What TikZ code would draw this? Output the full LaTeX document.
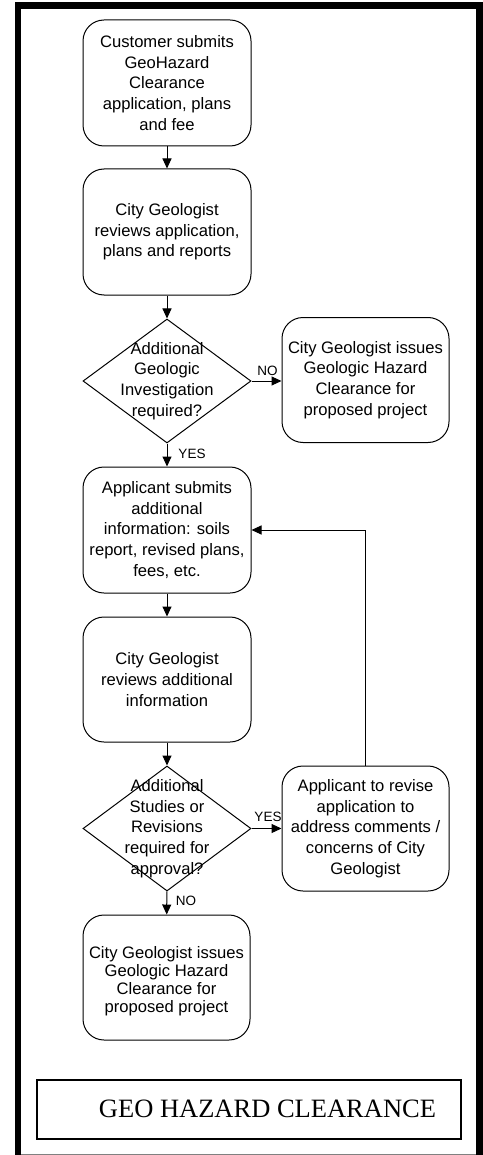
\documentclass[tikz,border=0pt]{standalone}
\usepackage{fontspec}
\setmainfont{Liberation Sans}
\newfontfamily\titlefont{Liberation Serif}
\usetikzlibrary{shapes.geometric,arrows.meta}

\tikzset{
  flowbox/.style={draw, line width=1pt, rounded corners=21pt,
    minimum width=168pt, minimum height=126pt, inner sep=2pt,
    align=center, font=\fontsize{16.6}{20.6}\selectfont},
  decision/.style={draw, line width=1pt, diamond, inner sep=0pt,
    minimum width=168pt, minimum height=124pt},
  decisiontext/.style={align=center, inner sep=0pt,
    font=\fontsize{16.6}{20.7}\selectfont},
  flowarrow/.style={line width=1pt, -{Triangle[length=10pt,width=9pt]}},
  answer/.style={inner sep=0pt, font=\fontsize{13.5}{15}\selectfont},
}

\begin{document}
\begin{tikzpicture}[x=1pt, y=-1pt]
\useasboundingbox (0,0) rectangle (482,1155);

% outer frame
\draw[line width=6.6pt, miter limit=10] (18,1160) -- (18,5.7) -- (479.3,5.7) -- (479.3,1160);
\draw[gray, line width=1pt] (21,1154.3) -- (476,1154.3);

% main column
\node[flowbox] (b1) at (167,83) {Customer submits\\GeoHazard\\Clearance\\application, plans\\and fee};
\node[flowbox] (b2) at (167,232) {City Geologist\\reviews application,\\plans and reports};
\node[decision] (d1) at (167,381) {};
\node[decisiontext] (d1t) at (d1.center) {Additional\\Geologic\\Investigation\\required?};
\node[flowbox, minimum width=167pt, minimum height=125pt] (r1) at (365.5,380) {City Geologist issues\\Geologic Hazard\\Clearance for\\proposed project};
\node[flowbox] (b3) at (167,530) {Applicant submits\\additional\\information: soils\\report, revised plans,\\fees, etc.};
\node[flowbox, minimum height=125pt] (b4) at (167,679.5) {City Geologist\\reviews additional\\information};
\node[decision, minimum height=125pt] (d2) at (167,828.5) {};
\node[decisiontext] (d2t) at (d2.center) {Additional\\Studies or\\Revisions\\required for\\approval?};
\node[flowbox, minimum width=167pt, minimum height=125pt] (r2) at (365.5,828.5) {Applicant to revise\\application to\\address comments /\\concerns of City\\Geologist};
\node[flowbox, minimum width=167pt, minimum height=125pt] (b5) at (166.5,977.5) {};
\node[align=center, inner sep=0pt, font=\fontsize{16.6}{18}\selectfont] (b5t) at (166.5,981) {City Geologist issues\\Geologic Hazard\\Clearance for\\proposed project};

% connectors
\draw[flowarrow] (b1) -- (b2);
\draw[flowarrow] (b2) -- (d1);
\draw[flowarrow] (d1.east) -- (d1.east -| r1.west);
\draw[flowarrow] (d1) -- (b3);
\draw[flowarrow] (b3) -- (b4);
\draw[flowarrow] (b4) -- (d2);
\draw[flowarrow] (d2.east) -- (r2.west);
\draw[flowarrow] (r2.north) |- (b3.east);
\draw[flowarrow] (d2) -- (b5);

% branch labels
\node[answer] (no1) at (267.5,370.5) {NO};
\node[answer] (yes1) at (192,454) {YES};
\node[answer] (yes2) at (268,816.5) {YES};
\node[answer] (no2) at (186,900.5) {NO};

% title panel
\node[draw, line width=1.2pt, minimum width=424pt, minimum height=59pt, inner sep=0pt] (titlebox) at (249,1109.5) {};
\node[anchor=base, inner sep=0pt, font=\titlefont\fontsize{26.5}{30}\selectfont] (title) at (267.5,1117.3) {GEO HAZARD CLEARANCE};
\end{tikzpicture}
\end{document}
